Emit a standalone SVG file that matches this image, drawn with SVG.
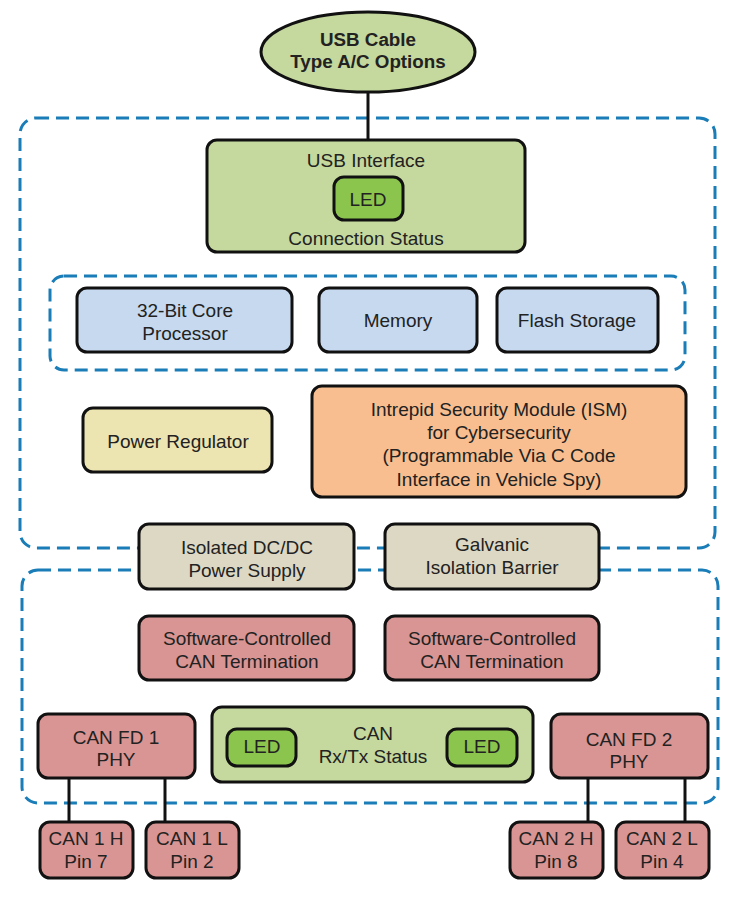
<svg xmlns="http://www.w3.org/2000/svg" width="748" height="900" viewBox="0 0 748 900">
<style>
.grp{fill:none;stroke:#1a7db8;stroke-width:3;stroke-dasharray:13 7}
.box{stroke:#111;stroke-width:3}
.g{fill:#c5d89d}.led{fill:#8cc54e}.b{fill:#c6d9ef}.y{fill:#ece4b1}.o{fill:#f8be8f}.t{fill:#ddd8c3}.r{fill:#d99594}
text{font-family:"Liberation Sans",Arial,sans-serif;font-size:19px;fill:#222;text-anchor:middle}
.bold{font-weight:bold;font-size:18.8px}
.wire{stroke:#111;stroke-width:3;fill:none}
</style>
<rect width="748" height="900" fill="#fff"/>
<g id="groups">
<rect class="grp" x="20" y="118" width="695" height="430" rx="16"/>
<rect class="grp" x="50" y="276" width="635" height="94" rx="14"/>
<rect class="grp" x="22" y="570" width="696" height="233" rx="16"/>
</g>
<g id="connectors">
<line class="wire" x1="368" y1="92" x2="368" y2="140"/>
<line class="wire" x1="69" y1="778" x2="69" y2="822"/>
<line class="wire" x1="165" y1="778" x2="165" y2="822"/>
<line class="wire" x1="588" y1="778" x2="588" y2="822"/>
<line class="wire" x1="685" y1="778" x2="685" y2="822"/>
</g>
<g id="usb-cable">
<ellipse class="box g" cx="368" cy="52" rx="107" ry="40"/>
<text class="bold" x="368" y="46">USB Cable</text>
<text class="bold" x="368" y="68">Type A/C Options</text>
</g>
<g id="usb-interface">
<rect class="box g" x="207" y="140" width="318" height="112" rx="10"/>
<text x="366" y="167">USB Interface</text>
<text x="366" y="245">Connection Status</text>
</g>
<g id="usb-led">
<rect class="box led" x="334" y="177" width="69" height="43" rx="10"/>
<text x="368" y="206">LED</text>
</g>
<g id="processor">
<rect class="box b" x="77" y="288" width="215" height="64" rx="10"/>
<text x="185" y="317">32-Bit Core</text>
<text x="185" y="340">Processor</text>
</g>
<g id="memory">
<rect class="box b" x="319" y="288" width="158" height="64" rx="10"/>
<text x="398" y="327">Memory</text>
</g>
<g id="flash">
<rect class="box b" x="497" y="288" width="161" height="64" rx="10"/>
<text x="577" y="327">Flash Storage</text>
</g>
<g id="power-regulator">
<rect class="box y" x="83" y="408" width="189" height="64" rx="10"/>
<text x="178" y="448">Power Regulator</text>
</g>
<g id="ism">
<rect class="box o" x="312" y="386" width="374" height="111" rx="10"/>
<text x="499" y="416">Intrepid Security Module (ISM)</text>
<text x="499" y="439">for Cybersecurity</text>
<text x="499" y="462">(Programmable Via C Code</text>
<text x="499" y="486">Interface in Vehicle Spy)</text>
</g>
<g id="dcdc">
<rect class="box t" x="139" y="524" width="215" height="65" rx="10"/>
<text x="247" y="554">Isolated DC/DC</text>
<text x="247" y="577">Power Supply</text>
</g>
<g id="galvanic">
<rect class="box t" x="385" y="524" width="214" height="65" rx="10"/>
<text x="492" y="551">Galvanic</text>
<text x="492" y="574">Isolation Barrier</text>
</g>
<g id="term1">
<rect class="box r" x="139" y="616" width="215" height="64" rx="10"/>
<text x="247" y="645">Software-Controlled</text>
<text x="247" y="668">CAN Termination</text>
</g>
<g id="term2">
<rect class="box r" x="385" y="616" width="214" height="64" rx="10"/>
<text x="492" y="645">Software-Controlled</text>
<text x="492" y="668">CAN Termination</text>
</g>
<g id="canfd1">
<rect class="box r" x="38" y="714" width="157" height="64" rx="10"/>
<text x="116" y="744">CAN FD 1</text>
<text x="116" y="766">PHY</text>
</g>
<g id="can-status">
<rect class="box g" x="212" y="707" width="321" height="75" rx="10"/>
<text x="373" y="740">CAN</text>
<text x="373" y="763">Rx/Tx Status</text>
</g>
<g id="can-led1">
<rect class="box led" x="227" y="729" width="69" height="37" rx="10"/>
<text x="262" y="753">LED</text>
</g>
<g id="can-led2">
<rect class="box led" x="447" y="729" width="70" height="37" rx="10"/>
<text x="482" y="753">LED</text>
</g>
<g id="canfd2">
<rect class="box r" x="551" y="714" width="157" height="64" rx="10"/>
<text x="629" y="746">CAN FD 2</text>
<text x="629" y="768">PHY</text>
</g>
<g id="can1h">
<rect class="box r" x="40" y="822" width="93" height="56" rx="10"/>
<text x="86" y="845">CAN 1 H</text>
<text x="86" y="868">Pin 7</text>
</g>
<g id="can1l">
<rect class="box r" x="146" y="822" width="93" height="56" rx="10"/>
<text x="192" y="845">CAN 1 L</text>
<text x="192" y="868">Pin 2</text>
</g>
<g id="can2h">
<rect class="box r" x="510" y="822" width="93" height="56" rx="10"/>
<text x="556" y="845">CAN 2 H</text>
<text x="556" y="868">Pin 8</text>
</g>
<g id="can2l">
<rect class="box r" x="616" y="822" width="93" height="56" rx="10"/>
<text x="662" y="845">CAN 2 L</text>
<text x="662" y="868">Pin 4</text>
</g>
</svg>
